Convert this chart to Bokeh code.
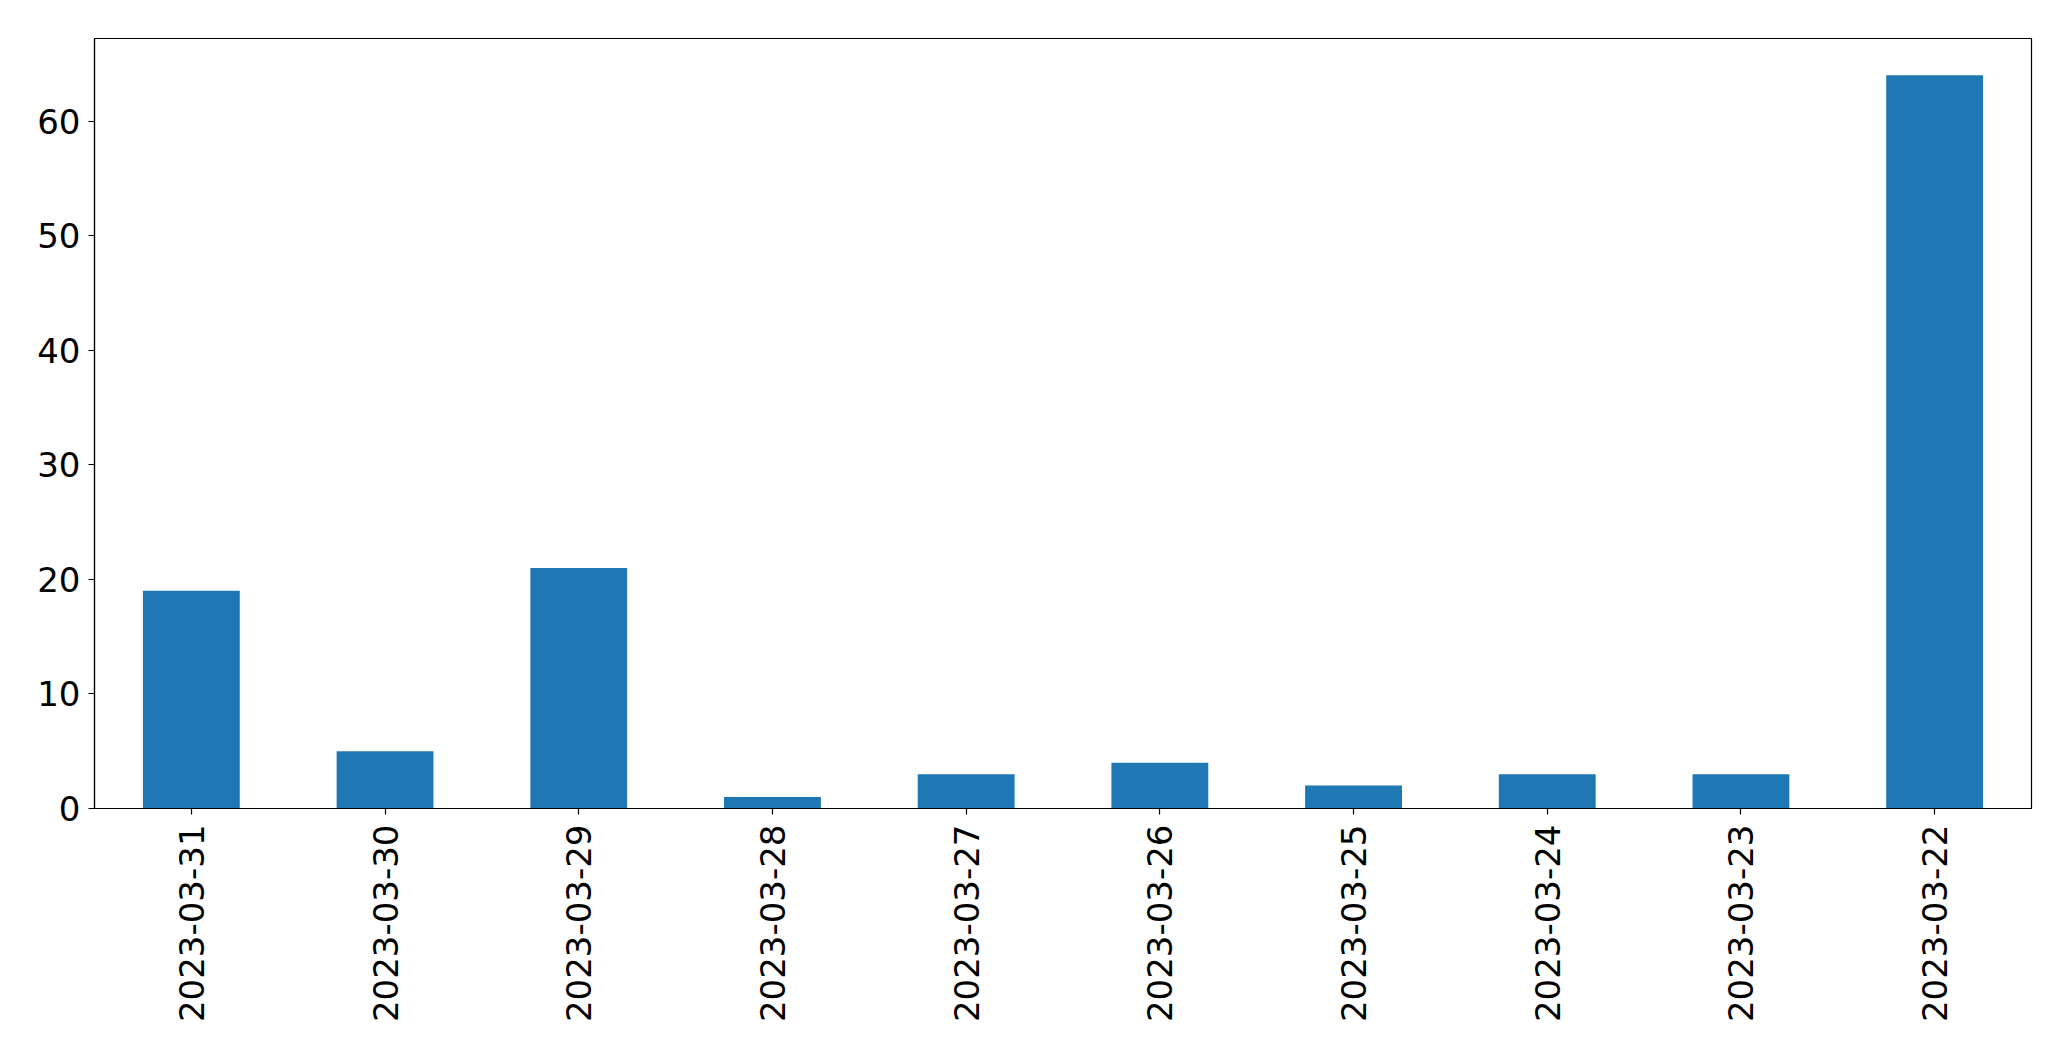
import math
from bokeh.plotting import figure
from bokeh.models import Range1d, FactorRange, FixedTicker
from bokeh.embed import file_html
from bokeh.resources import INLINE

dates = ["2023-03-31", "2023-03-30", "2023-03-29", "2023-03-28", "2023-03-27",
         "2023-03-26", "2023-03-25", "2023-03-24", "2023-03-23", "2023-03-22"]
counts = [19, 5, 21, 1, 3, 4, 2, 3, 3, 64]
y_ticks = [0, 10, 20, 30, 40, 50, 60]

p = figure(width=2058, height=1050, output_backend="svg", toolbar_location=None,
           x_range=FactorRange(factors=dates, range_padding=0),
           y_range=Range1d(0, max(counts) * 1.05),
           min_border_left=94, min_border_right=27, min_border_top=38, min_border_bottom=242)

p.vbar(x=dates, top=counts, width=0.5, color="#1f77b4", line_color=None)

p.xgrid.visible = False
p.ygrid.visible = False
p.outline_line_color = "black"
p.outline_line_width = 1.2

font = "DejaVu Sans"
for ax in (p.xaxis[0], p.yaxis[0]):
    ax.major_label_text_font = font
    ax.major_label_text_font_size = "34px"
    ax.major_label_text_color = "black"
    ax.axis_line_color = "black"
    ax.axis_line_width = 1.2
    ax.major_tick_line_color = "black"
    ax.major_tick_line_width = 1.2
    ax.major_tick_out = 6
    ax.major_tick_in = 0
    ax.minor_tick_line_color = None

p.yaxis.ticker = FixedTicker(ticks=y_ticks)
p.yaxis.major_label_standoff = 8
p.xaxis.major_label_orientation = math.pi / 2
p.xaxis.major_label_standoff = 10

open("out.html", "w").write(file_html(p, INLINE))
